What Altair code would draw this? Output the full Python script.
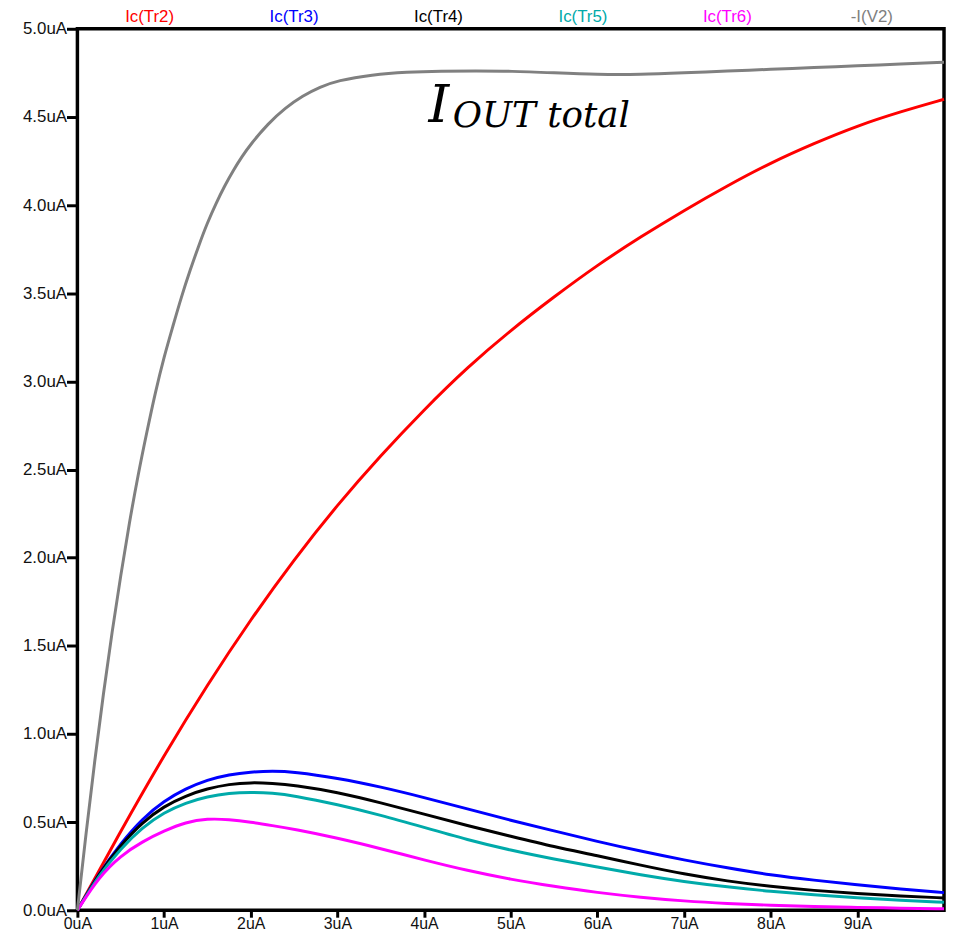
import altair as alt
import pandas as pd

# ---------------- data ----------------
series_names = ["Ic(Tr2)", "Ic(Tr3)", "Ic(Tr4)", "Ic(Tr5)", "Ic(Tr6)", "-I(V2)"]
series_colors = ["#ff0000", "#0000ff", "#000000", "#00aaaa", "#ff00ff", "#808080"]

x_tr2 = [0, 0.5, 1.0, 1.5, 2.0, 2.5, 3.0, 3.5, 4.0, 4.5, 5.0, 5.5, 6.0, 6.5, 7.0, 7.5,
         8.0, 8.5, 9.0, 9.5, 10.0]
ic_tr2 = [0, 0.45, 0.88, 1.28, 1.65, 1.99, 2.30, 2.58, 2.84, 3.08, 3.29, 3.48, 3.66,
          3.82, 3.97, 4.11, 4.24, 4.35, 4.45, 4.53, 4.60]

x_small = [0, 0.25, 0.5, 0.75, 1.0, 1.25, 1.5, 1.75, 2.0, 2.25, 2.5, 3.0, 3.5, 4.0, 4.5,
           5.0, 5.5, 6.0, 6.5, 7.0, 7.5, 8.0, 8.5, 9.0, 9.5, 10.0]
ic_tr3 = [0, 0.21, 0.38, 0.52, 0.62, 0.69, 0.74, 0.77, 0.785, 0.79, 0.785, 0.75, 0.70,
          0.64, 0.575, 0.51, 0.45, 0.39, 0.335, 0.285, 0.24, 0.20, 0.17, 0.145, 0.12, 0.10]
ic_tr4 = [0, 0.21, 0.37, 0.50, 0.59, 0.65, 0.69, 0.715, 0.725, 0.72, 0.71, 0.67, 0.61,
          0.545, 0.48, 0.42, 0.36, 0.31, 0.255, 0.205, 0.165, 0.135, 0.112, 0.094, 0.08, 0.07]
ic_tr5 = [0, 0.20, 0.35, 0.47, 0.555, 0.61, 0.645, 0.665, 0.67, 0.665, 0.65, 0.60, 0.54,
          0.47, 0.40, 0.34, 0.29, 0.245, 0.20, 0.162, 0.132, 0.107, 0.087, 0.07, 0.056, 0.045]
ic_tr6 = [0, 0.19, 0.31, 0.39, 0.45, 0.50, 0.52, 0.515, 0.50, 0.48, 0.46, 0.41, 0.35,
          0.285, 0.225, 0.175, 0.135, 0.10, 0.073, 0.052, 0.038, 0.028, 0.021, 0.016, 0.012, 0.008]

x_v2 = [0, 0.1, 0.2, 0.3, 0.4, 0.5, 0.6, 0.7, 0.8, 0.9, 1.0, 1.1, 1.2, 1.3, 1.4, 1.5, 1.6,
        1.7, 1.8, 1.9, 2.0, 2.2, 2.4, 2.6, 2.8, 3.0, 3.4, 3.8, 4.2, 4.6, 5.0, 5.5, 6.0,
        6.5, 7.0, 7.5, 8.0, 8.5, 9.0, 9.5, 10.0]
i_v2 = [0, 0.44, 0.85, 1.23, 1.58, 1.90, 2.20, 2.47, 2.71, 2.94, 3.14, 3.31, 3.48, 3.63,
        3.77, 3.90, 4.01, 4.11, 4.198, 4.276, 4.346, 4.462, 4.552, 4.62, 4.67, 4.706, 4.74,
        4.755, 4.76, 4.76, 4.76, 4.75, 4.74, 4.74, 4.75, 4.76, 4.77, 4.78, 4.79, 4.80, 4.81]

x_ticks = [0, 1, 2, 3, 4, 5, 6, 7, 8, 9]
y_ticks = [0, 0.5, 1.0, 1.5, 2.0, 2.5, 3.0, 3.5, 4.0, 4.5, 5.0]

annot_main = "I"
annot_sub = "OUT total"
annot_main_pos = (4.05, 4.47)
annot_sub_pos = (4.33, 4.445)

# ---------------- tables ----------------
rows = []
for name, xs, ys in [
    ("Ic(Tr2)", x_tr2, ic_tr2),
    ("Ic(Tr3)", x_small, ic_tr3),
    ("Ic(Tr4)", x_small, ic_tr4),
    ("Ic(Tr5)", x_small, ic_tr5),
    ("Ic(Tr6)", x_small, ic_tr6),
    ("-I(V2)", x_v2, i_v2),
]:
    for xv, yv in zip(xs, ys):
        rows.append({"series": name, "x": xv, "y": yv})
df = pd.DataFrame(rows)

legend_df = pd.DataFrame({"series": series_names})
annot_df = pd.DataFrame({"text": [annot_main], "x": [annot_main_pos[0]],
                         "y": [annot_main_pos[1]]})
annot_sub_df = pd.DataFrame({"text": [annot_sub], "x": [annot_sub_pos[0]],
                             "y": [annot_sub_pos[1]]})

xscale = alt.Scale(domain=[0, 10], nice=False, zero=False)
yscale = alt.Scale(domain=[0, 5], nice=False)
color = alt.Color("series:N", scale=alt.Scale(domain=series_names, range=series_colors),
                  legend=None)

y_axis = alt.Axis(values=y_ticks, labelExpr="format(datum.value, '.1f') + 'uA'",
                  title=None, tickSize=11, labelPadding=0, labelFontSize=17)

lines = alt.Chart(df).mark_line(strokeWidth=3, interpolate="basis").encode(
    x=alt.X("x:Q", scale=xscale,
            axis=alt.Axis(values=x_ticks, labelExpr="datum.value + 'uA'", title=None,
                          tickSize=7, labelPadding=-2, labelFlush=False,
                          labelFontSize=16)),
    y=alt.Y("y:Q", scale=yscale, axis=y_axis),
    color=color,
)

annot1 = alt.Chart(annot_df).mark_text(
    font="DejaVu Serif", fontStyle="italic", fontSize=53, align="left",
    baseline="alphabetic", color="#000000"
).encode(
    x=alt.X("x:Q", scale=xscale, axis=None),
    y=alt.Y("y:Q", scale=yscale, axis=y_axis),
    text="text:N",
)
annot2 = alt.Chart(annot_sub_df).mark_text(
    font="DejaVu Serif", fontStyle="italic", fontSize=36, align="left",
    baseline="alphabetic", color="#000000"
).encode(
    x=alt.X("x:Q", scale=xscale, axis=None),
    y=alt.Y("y:Q", scale=yscale, axis=y_axis),
    text="text:N",
)

labels = alt.Chart(legend_df).mark_text(
    font="Liberation Sans", fontSize=17, align="center", baseline="alphabetic"
).encode(
    x=alt.X("series:N", scale=alt.Scale(domain=series_names), axis=None),
    y=alt.value(-7),
    text="series:N",
    color=color,
)

chart = alt.layer(lines, annot1, annot2, labels).resolve_scale(
    x="independent"
).properties(
    width=874,
    height=889,
    autosize=alt.AutoSizeParams(type="none"),
    padding={"left": 70, "top": 17, "right": 2, "bottom": 22},
).configure_view(
    stroke="#000000", strokeWidth=3.5
).configure_axis(
    domain=False, grid=False, ticks=True, tickColor="#000000", tickWidth=3,
    labelFont="Liberation Sans", labelColor="#111111",
)

chart.save("out.html", embed_options={"renderer": "svg", "actions": False})
